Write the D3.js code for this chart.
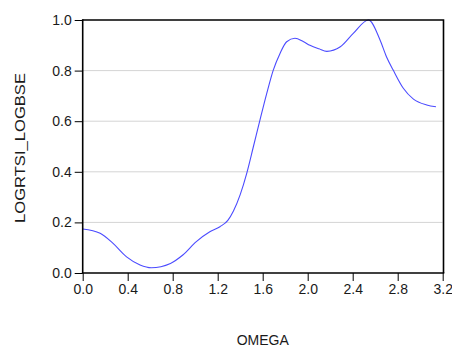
<!DOCTYPE html>
<html>
<head>
<meta charset="utf-8">
<script src="https://cdn.jsdelivr.net/npm/d3@7"></script>
<style>
  html, body { margin: 0; padding: 0; background: #fff; }
  svg { display: block; }
  text { font-family: "Liberation Sans", Arial, sans-serif; fill: #1a1a1a; }
</style>
</head>
<body>
<script>
// Spectrum ordinates over frequency omega
const omega = [0.00, 0.155, 0.27, 0.39, 0.51, 0.61, 0.78, 0.89, 1.01, 1.13, 1.22, 1.29, 1.34, 1.40,
  1.458, 1.517, 1.576, 1.636, 1.694, 1.754, 1.813, 1.887, 1.96, 2.02, 2.10, 2.17, 2.29, 2.405, 2.54,
  2.643, 2.70, 2.76, 2.85, 2.94, 3.058, 3.14];
const values = [0.174, 0.157, 0.117, 0.064, 0.032, 0.021, 0.038, 0.071, 0.124, 0.163, 0.183, 0.208, 0.245, 0.310,
  0.394, 0.499, 0.605, 0.710, 0.802, 0.868, 0.914, 0.928, 0.915, 0.900, 0.886, 0.876, 0.894, 0.947, 1.0,
  0.921, 0.855, 0.802, 0.730, 0.687, 0.664, 0.657];
const xTicks = [0.0, 0.4, 0.8, 1.2, 1.6, 2.0, 2.4, 2.8, 3.2];
const yTicks = [0.0, 0.2, 0.4, 0.6, 0.8, 1.0];
const xTitle = "OMEGA";
const yTitle = "LOGRTSI_LOGBSE";

const W = 452, H = 347;
const plot = { left: 82.7, right: 442.7, top: 20, bottom: 273 };

const svg = d3.select("body").append("svg").attr("width", W).attr("height", H);

const x = d3.scaleLinear().domain([0, 3.2]).range([plot.left, plot.right]);
const y = d3.scaleLinear().domain([0, 1]).range([plot.bottom, plot.top]);

// horizontal grid lines
svg.append("g").selectAll("line")
  .data(yTicks.filter(v => v > 0 && v < 1))
  .join("line")
  .attr("x1", plot.left).attr("x2", plot.right)
  .attr("y1", d => y(d)).attr("y2", d => y(d))
  .attr("stroke", "#d4d4d4").attr("stroke-width", 1);

// series
const line = d3.line()
  .x((d, i) => x(omega[i]))
  .y(d => y(d))
  .curve(d3.curveMonotoneX);

svg.append("path")
  .datum(values)
  .attr("d", line)
  .attr("fill", "none")
  .attr("stroke", "#4b4bff")
  .attr("stroke-width", 1.1);

// frame (top and right)
svg.append("path")
  .attr("d", `M${plot.left},${plot.top}H${plot.right + 0.8}V${plot.bottom}`)
  .attr("fill", "none").attr("stroke", "#000").attr("stroke-width", 1.6);

// axes
const xAxis = d3.axisBottom(x).tickValues(xTicks).tickFormat(d3.format(".1f"))
  .tickSizeInner(8).tickSizeOuter(0).tickPadding(3);
const yAxis = d3.axisLeft(y).tickValues(yTicks).tickFormat(d3.format(".1f"))
  .tickSizeInner(8).tickSizeOuter(0).tickPadding(3);

const gx = svg.append("g").attr("transform", `translate(0,${plot.bottom})`).call(xAxis);
const gy = svg.append("g").attr("transform", `translate(${plot.left},0)`).call(yAxis);

[gx, gy].forEach(g => {
  g.select(".domain").attr("stroke", "#000").attr("stroke-width", 1.6);
  g.selectAll(".tick line").attr("stroke", "#000").attr("stroke-width", 1);
  g.selectAll(".tick text").attr("font-size", 14).attr("fill", "#1a1a1a")
    .attr("font-family", "'Liberation Sans', Arial, sans-serif");
});
gx.select(".domain").attr("d", `M${plot.left - 0.8},0H${plot.right + 1.6}`);
gy.select(".domain").attr("d", `M0,${plot.bottom}V${plot.top - 0.8}`);

// axis titles
svg.append("text")
  .attr("x", (plot.left + plot.right) / 2).attr("y", 345)
  .attr("text-anchor", "middle").attr("font-size", 14)
  .text(xTitle);

svg.append("text")
  .attr("transform", `translate(25,${(plot.top + plot.bottom) / 2 + 1.5}) rotate(-90)`)
  .attr("text-anchor", "middle").attr("font-size", 14)
  .attr("textLength", 150).attr("lengthAdjust", "spacingAndGlyphs")
  .text(yTitle);
</script>
</body>
</html>
